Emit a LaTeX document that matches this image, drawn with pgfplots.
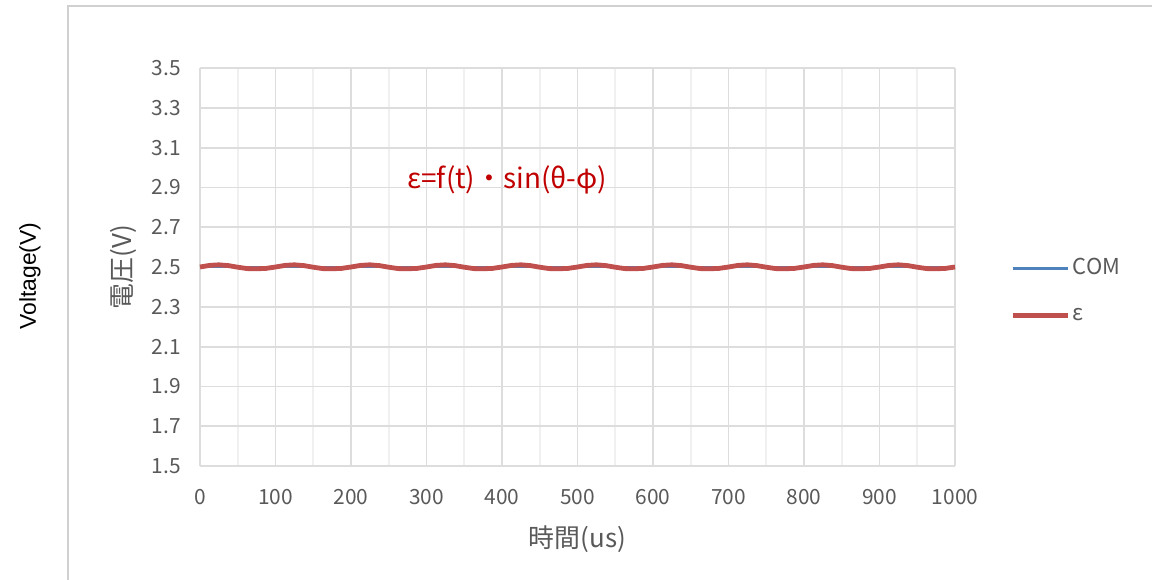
\documentclass[border=0pt]{standalone}
\usepackage{pgfplots}
\pgfplotsset{compat=1.18}
\usepackage{fontspec}
\setmainfont{Noto Sans CJK JP}
\newfontfamily\arialfont{Liberation Sans}
\definecolor{comblue}{HTML}{4F81BD}
\definecolor{epsred}{HTML}{C0504D}
\definecolor{eqred}{HTML}{C00000}
\definecolor{txtgray}{HTML}{595959}
\definecolor{gridgray}{HTML}{DDDDDD}
\definecolor{minorgray}{HTML}{F0F0F0}
\definecolor{framegray}{HTML}{D0D0D0}
\pgfplotstableread{
x y
0 2.500
12.5 2.508
25 2.511
37.5 2.507
50 2.499
62.5 2.492
75 2.491
87.5 2.493
100 2.500
112.5 2.508
125 2.511
137.5 2.507
150 2.499
162.5 2.492
175 2.491
187.5 2.493
200 2.500
212.5 2.508
225 2.511
237.5 2.507
250 2.499
262.5 2.492
275 2.491
287.5 2.493
300 2.500
312.5 2.508
325 2.511
337.5 2.507
350 2.499
362.5 2.492
375 2.491
387.5 2.493
400 2.500
412.5 2.508
425 2.511
437.5 2.507
450 2.499
462.5 2.492
475 2.491
487.5 2.493
500 2.500
512.5 2.508
525 2.511
537.5 2.507
550 2.499
562.5 2.492
575 2.491
587.5 2.493
600 2.500
612.5 2.508
625 2.511
637.5 2.507
650 2.499
662.5 2.492
675 2.491
687.5 2.493
700 2.500
712.5 2.508
725 2.511
737.5 2.507
750 2.499
762.5 2.492
775 2.491
787.5 2.493
800 2.500
812.5 2.508
825 2.511
837.5 2.507
850 2.499
862.5 2.492
875 2.491
887.5 2.493
900 2.500
912.5 2.508
925 2.511
937.5 2.507
950 2.499
962.5 2.492
975 2.491
987.5 2.493
1000 2.500
}\epsdata
\begin{document}
\begin{tikzpicture}
\useasboundingbox (0,0) rectangle (576bp,290bp);
\draw[framegray, line width=0.6bp] (34bp,0) -- (34bp,287bp) -- (576bp,287bp);
\node[rotate=90, font=\arialfont\fontsize{11.5}{13}\selectfont] at (15bp,152bp) {Voltage(V)};
\begin{axis}[
  at={(100bp,57bp)}, anchor=south west,
  scale only axis, width=377.5bp, height=199bp,
  xmin=0, xmax=1000, ymin=1.5, ymax=3.5,
  xtick={0,100,...,1000},
  minor xtick={50,150,...,950},
  ytick={1.5,1.7,...,3.5},
  /pgf/number format/assume math mode=true,
  /pgf/number format/1000 sep={},
  yticklabel style={/pgf/number format/fixed, /pgf/number format/fixed zerofill, /pgf/number format/precision=1, xshift=-6bp},
  grid=both,
  major grid style={gridgray, line width=0.9bp},
  minor grid style={minorgray, line width=0.9bp},
  axis line style={gridgray, line width=0.9bp},
  axis x line*=bottom, axis y line*=left,
  major tick length=0pt, minor tick length=0pt,
  tick label style={txtgray, font=\fontsize{10.5}{12}\selectfont},
  xticklabel style={yshift=-8bp},
  xlabel={時間(us)}, ylabel={電圧(V)},
  label style={txtgray, font=\fontsize{13}{15}\selectfont},
  xlabel style={yshift=-4bp},
  ylabel style={yshift=1bp},
  legend style={draw=none, fill=none, at={(1.148,0.44)}, anchor=center,
    font=\fontsize{11}{12}\selectfont, text=txtgray, row sep=11bp,
    legend cell align=left, inner xsep=0pt,
    nodes={inner xsep=1.5bp}},
  legend image code/.code={\draw[#1] (0bp,0bp) -- (27.5bp,0bp);},
  clip=false,
]
\addplot[comblue, line width=1.4bp] coordinates {(0,2.5) (1000,2.5)};
\addlegendentry{COM}
\addplot[epsred, line width=2.4bp, line join=round] table[x=x,y=y] {\epsdata};
\addlegendentry{ε}
\node[eqred, font=\fontsize{14}{16}\selectfont] at (axis cs:407,2.94) {ε=f(t)・sin(θ-φ)};
\end{axis}
\end{tikzpicture}
\end{document}
